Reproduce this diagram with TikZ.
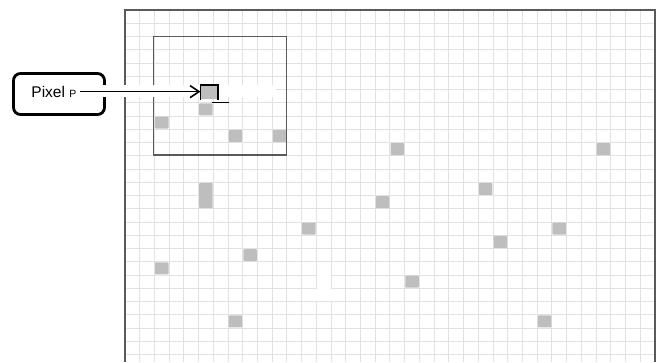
\documentclass[tikz,border=0pt]{standalone}
\usepackage{fontspec}
\setsansfont{Liberation Sans}
\usepackage{tikz}
\usepackage{xcolor}
\usetikzlibrary{arrows.meta,calc,positioning}
\definecolor{gridgray}{HTML}{E2E2E2}
\definecolor{cellgray}{HTML}{BEBEBE}
\definecolor{framegray}{HTML}{5A5A5A}
\tikzset{
  every picture/.append style={line cap=butt,line join=miter},
  px grid/.style={gridgray,line width=1pt},
  px cell/.style={fill=cellgray,rounded corners=0.8pt},
  px frame/.style={framegray,line width=1.5pt},
  px window/.style={framegray,line width=1.1pt},
  px label/.style={draw=black,line width=2.8pt,rounded corners=7pt,minimum width=91pt,minimum height=41pt,inner sep=0pt},
  px text/.style={font=\sffamily\fontsize{15.5}{18}\selectfont,inner xsep=3pt,inner ysep=0pt},
  px pixel/.style={fill=cellgray,minimum width=17pt,minimum height=14.3pt,inner sep=0pt},
  px edge/.style={black,line width=1.6pt},
  px arrow/.style={black,line width=1.6pt,-{Straight Barb[length=9pt,width=12pt,line width=1.6pt]}}
}

\begin{document}
\begin{tikzpicture}[x=1pt,y=-1pt]
\useasboundingbox (0,0) rectangle (660,362);
% grid
\foreach \c in {1,...,35}
  \draw[px grid] ({125+\c*14.72},10) -- ({125+\c*14.72},362);
\foreach \r in {1,...,26}
  \draw[px grid] (125,{10+\r*13.25}) -- (655,{10+\r*13.25});
\fill[white] (316.9,263) rectangle (330.6,301);
\fill[white] (302.2,289) rectangle (345.3,301);
% set pixels (column/row/height)
\foreach \c/\r/\h in {
  2/8/1, 5/7/1, 7/9/1, 10/9/1,
  18/10/1, 32/10/1, 24/13/1, 5/13/2,
  17/14/1, 12/16/1, 29/16/1, 25/17/1,
  8/18/1, 2/19/1, 19/20/1, 7/23/1, 28/23/1
}{
  \fill[px cell] ({125+\c*14.72+0.6},{10+\r*13.25+0.6}) rectangle ++(13.5,{\h*13.25-1.2});
}
\draw[px frame] (125,362) |- (655,10) -- (655,362);
\draw[px window] (153.8,36.3) rectangle (286.5,155);
% label
\node[px label] (lbl) at (59,94) {};
\node[px text] (txt) at (53.9,91.6) {Pixel {\fontsize{10.5}{12}\selectfont P}};
\fill[white] (100,85) rectangle (276,97);
\node[px pixel] (pix) at (209.2,92.2) {};
\draw[px edge] (pix.south west) |- (pix.north east) -- (pix.south east);
\draw[px edge] ($(pix.south east)+(-5.5,2.8)$) -- ++(16.6,0);
\draw[px arrow] (txt.east) -- (txt.east -| pix.west);
\end{tikzpicture}
\end{document}
